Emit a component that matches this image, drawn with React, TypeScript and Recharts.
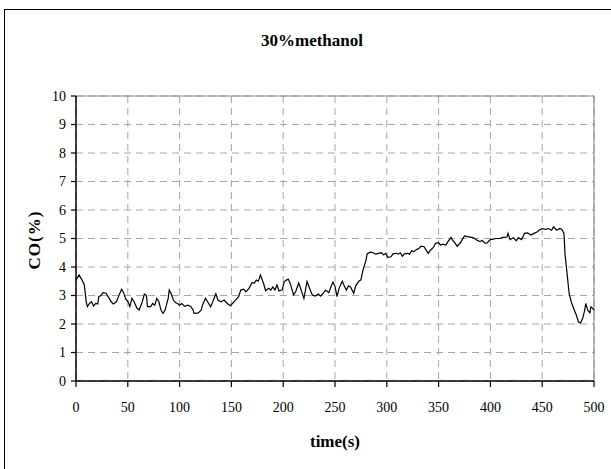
import React from 'react';
import { LineChart, Line, XAxis, YAxis, CartesianGrid, ReferenceLine } from 'recharts';

// CO reading over the run, sampled every couple of seconds
const timeS = [
  0, 1, 3, 6, 8, 10, 11, 13, 15, 17, 19, 21, 22, 24, 26, 29, 31, 34, 36, 39,
  41, 44, 46, 48, 50, 52, 54, 56, 59, 61, 64, 66, 68, 69, 72, 74, 76, 78, 80, 82,
  84, 86, 89, 90, 92, 94, 96, 98, 100, 102, 105, 108, 111, 113, 114, 118, 121, 122, 125, 127,
  130, 132, 135, 137, 140, 143, 146, 149, 151, 154, 157, 159, 162, 164, 167, 170, 172, 174, 176, 178,
  181, 183, 186, 188, 190, 192, 194, 196, 199, 201, 203, 205, 207, 210, 212, 215, 217, 220, 221, 223,
  225, 228, 231, 234, 236, 239, 241, 244, 246, 248, 250, 252, 254, 257, 259, 261, 263, 265, 268, 270,
  273, 275, 277, 280, 281, 284, 287, 289, 292, 295, 297, 299, 301, 304, 306, 309, 311, 313, 315, 317,
  320, 322, 324, 326, 329, 331, 333, 336, 338, 340, 342, 345, 347, 350, 352, 354, 357, 359, 362, 363,
  366, 368, 371, 373, 375, 379, 382, 385, 387, 390, 392, 395, 397, 400, 402, 405, 409, 412, 414, 416,
  417, 419, 422, 425, 427, 430, 433, 436, 439, 442, 445, 447, 450, 453, 456, 459, 461, 464, 467, 469,
  471, 472, 475, 476, 478, 481, 483, 485, 487, 489, 491, 492, 494, 496, 497, 499, 500,
];

const coPct = [
  3.55, 3.6, 3.72, 3.53, 3.38, 2.75, 2.61, 2.72, 2.78, 2.63, 2.72, 2.7, 2.96, 3.0, 3.1, 3.08, 2.96, 2.78, 2.7, 2.78,
  2.96, 3.22, 3.1, 2.87, 2.8, 2.61, 2.9, 2.78, 2.55, 2.49, 2.78, 3.05, 3.0, 2.61, 2.61, 2.72, 2.66, 2.9, 2.78, 2.49,
  2.37, 2.49, 2.9, 3.19, 3.05, 2.84, 2.75, 2.72, 2.66, 2.72, 2.62, 2.66, 2.61, 2.49, 2.37, 2.39, 2.49, 2.66, 2.9, 2.78,
  2.61, 2.78, 3.06, 2.84, 2.78, 2.84, 2.72, 2.64, 2.72, 2.84, 2.96, 3.19, 3.22, 3.13, 3.25, 3.46, 3.43, 3.54, 3.5, 3.72,
  3.43, 3.17, 3.25, 3.19, 3.3, 3.19, 3.37, 3.16, 3.2, 3.48, 3.54, 3.57, 3.4, 3.02, 3.13, 3.44, 3.23, 2.9, 3.09, 3.49,
  3.3, 3.02, 2.98, 3.05, 2.98, 3.1, 3.19, 3.1, 3.3, 3.47, 3.33, 2.96, 3.26, 3.5, 3.33, 3.19, 3.34, 3.3, 3.08, 3.34,
  3.5, 3.55, 3.89, 4.25, 4.46, 4.52, 4.5, 4.45, 4.48, 4.5, 4.42, 4.48, 4.34, 4.36, 4.46, 4.48, 4.45, 4.5, 4.38, 4.46,
  4.48, 4.45, 4.57, 4.54, 4.62, 4.65, 4.73, 4.71, 4.59, 4.48, 4.59, 4.69, 4.83, 4.85, 4.77, 4.8, 4.77, 4.89, 5.04, 4.97,
  4.83, 4.73, 4.85, 4.97, 5.09, 5.06, 5.04, 5.0, 4.94, 4.89, 4.94, 4.83, 4.85, 4.97, 4.97, 5.0, 5.0, 5.04, 5.04, 5.05,
  5.18, 4.96, 5.03, 4.92, 5.03, 4.96, 5.18, 5.2, 5.12, 5.18, 5.23, 5.29, 5.35, 5.32, 5.35, 5.29, 5.41, 5.29, 5.35, 5.32,
  5.18, 4.47, 3.42, 3.07, 2.78, 2.48, 2.31, 2.07, 2.04, 2.19, 2.48, 2.72, 2.48, 2.39, 2.6, 2.54, 2.48,
];

const xTicks = [0, 50, 100, 150, 200, 250, 300, 350, 400, 450, 500];
const yTicks = [0, 1, 2, 3, 4, 5, 6, 7, 8, 9, 10];

const data = timeS.map((t, i) => ({ t, co: coPct[i] }));

const serif = '"Liberation Serif", "Times New Roman", serif';
const tickStyle = { fontFamily: serif, fontSize: 14, fill: '#000' };

export default function App() {
  return (
    <div style={{ position: 'absolute', left: 0, top: 0, width: 611, height: 469, overflow: 'hidden', background: '#fff' }}>
      <div style={{ position: 'absolute', left: 4, top: 9, width: 640, height: 500, border: '1.5px solid #000', boxSizing: 'border-box' }} />
      <div style={{ position: 'absolute', left: 0, width: 624, top: 31, textAlign: 'center', fontFamily: serif, fontWeight: 'bold', fontSize: 17 }}>
        30%methanol
      </div>
      <div style={{ position: 'absolute', left: 35, top: 240, transform: 'translate(-50%, -50%) rotate(-90deg)', fontFamily: serif, fontWeight: 'bold', fontSize: 17, whiteSpace: 'nowrap', letterSpacing: 1 }}>
        CO(%)
      </div>
      <div style={{ position: 'absolute', left: 235, width: 200, top: 432, textAlign: 'center', fontFamily: serif, fontWeight: 'bold', fontSize: 17 }}>
        time(s)
      </div>
      <div style={{ position: 'absolute', left: 0, top: 0 }}>
        <LineChart width={611} height={469} data={data} margin={{ top: 96, right: 17, bottom: 58, left: 0 }}>
          <CartesianGrid stroke="#a6a6a6" strokeDasharray="7 5" />
          <XAxis
            dataKey="t"
            type="number"
            domain={[0, 500]}
            ticks={xTicks}
            interval={0}
            height={30}
            tickSize={6}
            tickMargin={15}
            tick={tickStyle}
            axisLine={{ stroke: '#000', strokeWidth: 1.5 }}
            tickLine={{ stroke: '#000', strokeWidth: 1.2 }}
          />
          <YAxis
            type="number"
            domain={[0, 10]}
            ticks={yTicks}
            interval={0}
            width={76}
            tickSize={5}
            tickMargin={5}
            tick={tickStyle}
            axisLine={{ stroke: '#000', strokeWidth: 1.5 }}
            tickLine={{ stroke: '#000', strokeWidth: 1.2 }}
          />
          <ReferenceLine y={10} stroke="#8c8c8c" strokeWidth={1.2} />
          <ReferenceLine x={500} stroke="#8c8c8c" strokeWidth={1.2} />
          <Line
            type="linear"
            dataKey="co"
            stroke="#000"
            strokeWidth={1.2}
            dot={false}
            isAnimationActive={false}
          />
        </LineChart>
      </div>
    </div>
  );
}
